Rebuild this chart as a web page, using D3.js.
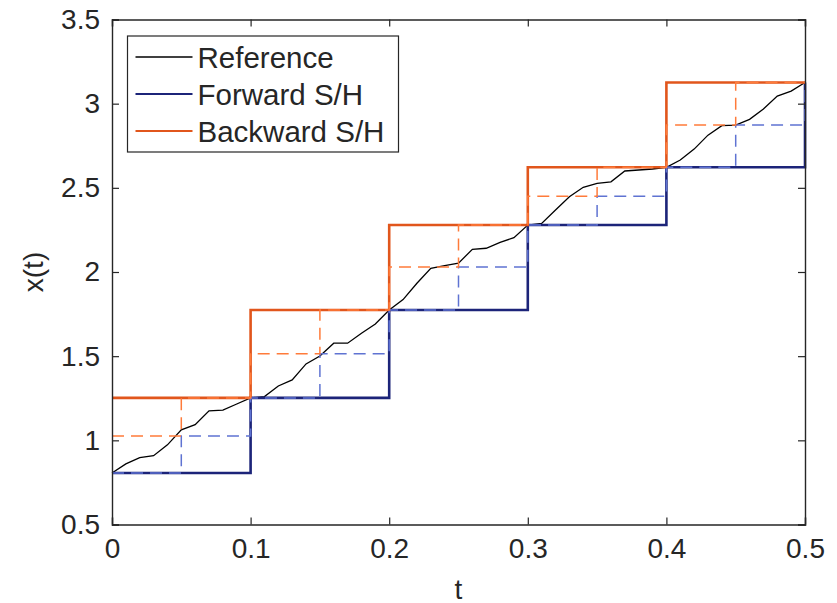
<!DOCTYPE html>
<meta charset="utf-8">
<style>
body { margin: 0; background: #fff; }
svg text { font-family: "Liberation Sans", Arial, Helvetica, sans-serif; fill: #262626; }
.axis path, .axis line { stroke: #262626; }
</style>
<svg id="chart"></svg>
<script src="https://d3js.org/d3.v7.min.js"></script>
<script>

// sample times and held values
const tCoarse = [0, 0.1, 0.2, 0.3, 0.4, 0.5];
const xCoarse = [0.806, 1.252, 1.774, 2.279, 2.622, 3.126];

const tFine = [0, 0.05, 0.1, 0.15, 0.2, 0.25, 0.3, 0.35, 0.4, 0.45, 0.5];
const xFine = [0.806, 1.026, 1.252, 1.515, 1.774, 2.03, 2.279, 2.45, 2.622, 2.873, 3.126];

// reference signal, dt = 0.01
const tRef = d3.range(0, 51).map(i => i / 100);
const xRef = [0.806, 0.86, 0.897, 0.909, 0.973, 1.062, 1.093, 1.175, 1.18, 1.216,
  1.252, 1.26, 1.323, 1.359, 1.454, 1.501, 1.577, 1.577, 1.636, 1.691,
  1.774, 1.836, 1.933, 2.022, 2.038, 2.052, 2.135, 2.141, 2.176, 2.204,
  2.279, 2.289, 2.368, 2.447, 2.503, 2.527, 2.536, 2.6, 2.606, 2.612,
  2.622, 2.665, 2.73, 2.813, 2.869, 2.873, 2.907, 2.968, 3.045, 3.075, 3.126];

const xTicks = [0, 0.1, 0.2, 0.3, 0.4, 0.5];
const yTicks = [0.5, 1, 1.5, 2, 2.5, 3, 3.5];
const legendLabels = ["Reference", "Forward S/H", "Backward S/H"];

const navy = "#1c2479", orange = "#e1561c";
const lightBlue = "#5f73d2", lightOrange = "#ff7b3a";

let svg = d3.select("#chart").attr("width", 837).attr("height", 603);

let margin = {top: 19.5, right: 32, bottom: 78.5, left: 112},
  width = 837 - margin.left - margin.right,
  height = 603 - margin.top - margin.bottom;

let x = d3.scaleLinear().domain([0, 0.5]).range([0, width]);
let y = d3.scaleLinear().domain([0.5, 3.5]).range([height, 0]);

let g = svg.append("g")
  .attr("transform", "translate(" + margin.left + "," + margin.top + ")");

// forward hold: stairs(t, x)
function forward(ts, xs) {
  let pts = [];
  for (let i = 0; i < ts.length; i++) {
    if (i > 0) pts.push([ts[i], xs[i - 1]]);
    pts.push([ts[i], xs[i]]);
  }
  return pts;
}
// backward hold: value of next sample over each interval
function backward(ts, xs) {
  let pts = [];
  for (let i = 0; i < ts.length - 1; i++) {
    pts.push([ts[i], xs[i + 1]]);
    pts.push([ts[i + 1], xs[i + 1]]);
  }
  return pts;
}

let line = d3.line().x(d => x(d[0])).y(d => y(d[1]));

g.append("path")
  .datum(tRef.map((t, i) => [t, xRef[i]]))
  .attr("fill", "none").attr("stroke", "#000").attr("stroke-width", 1.3)
  .attr("d", line);

g.append("path")
  .datum(forward(tCoarse, xCoarse))
  .attr("fill", "none").attr("stroke", navy).attr("stroke-width", 2.6)
  .attr("d", line);

g.append("path")
  .datum(backward(tCoarse, xCoarse))
  .attr("fill", "none").attr("stroke", orange).attr("stroke-width", 2.6)
  .attr("d", line);

g.append("path")
  .datum(forward(tFine, xFine))
  .attr("fill", "none").attr("stroke", lightBlue).attr("stroke-width", 1.5)
  .attr("stroke-dasharray", "12,7")
  .attr("d", line);

g.append("path")
  .datum(backward(tFine, xFine))
  .attr("fill", "none").attr("stroke", lightOrange).attr("stroke-width", 1.5)
  .attr("stroke-dasharray", "12,7")
  .attr("d", line);

// axes, ticks pointing inward on all sides
let fmt = d => d3.format("")(d);

g.append("g").attr("class", "axis")
  .attr("transform", "translate(0," + height + ")")
  .call(d3.axisBottom(x).tickValues(xTicks).tickSize(-7).tickPadding(14).tickFormat(fmt));
g.append("g").attr("class", "axis")
  .call(d3.axisTop(x).tickValues(xTicks).tickSize(-7).tickFormat(""));
g.append("g").attr("class", "axis")
  .call(d3.axisLeft(y).tickValues(yTicks).tickSize(-7).tickPadding(12).tickFormat(fmt));
g.append("g").attr("class", "axis")
  .attr("transform", "translate(" + width + ",0)")
  .call(d3.axisRight(y).tickValues(yTicks).tickSize(-7).tickFormat(""));

g.selectAll(".axis path").attr("stroke-width", 1.4);
g.selectAll(".axis line").attr("stroke-width", 1.2);
g.selectAll(".axis text").style("font-size", "28px").attr("fill", "#262626");

g.append("text")
  .attr("x", width / 2).attr("y", height + 74)
  .attr("text-anchor", "middle").style("font-size", "28px")
  .text("t");

g.append("text")
  .attr("transform", "translate(" + (-69) + "," + height / 2 + ") rotate(-90)")
  .attr("text-anchor", "middle").style("font-size", "28px")
  .text("x(t)");

// legend
let legend = g.append("g").attr("transform", "translate(15.5,16.5)");
legend.append("rect")
  .attr("width", 271).attr("height", 116)
  .attr("fill", "#fff").attr("stroke", "#262626").attr("stroke-width", 1.2);

let legendColors = ["#000", navy, orange];
legendLabels.forEach((label, i) => {
  let yy = 21 + i * 37;
  legend.append("line")
    .attr("x1", 8).attr("x2", 65).attr("y1", yy).attr("y2", yy)
    .attr("stroke", legendColors[i]).attr("stroke-width", i == 0 ? 1.3 : 2.2);
  legend.append("text")
    .attr("x", 70).attr("y", yy + 10.5)
    .style("font-size", "29.5px")
    .text(label);
});

</script>
